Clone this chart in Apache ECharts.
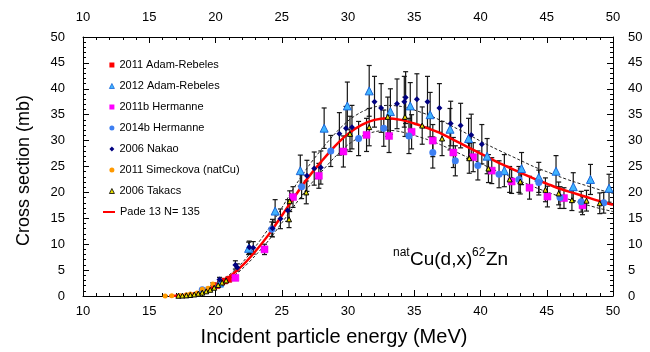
<!DOCTYPE html>
<html>
<head>
<meta charset="utf-8">
<script src="https://cdn.jsdelivr.net/npm/echarts@6/dist/echarts.min.js"></script>
<style>
  html, body { margin: 0; padding: 0; background: #fff; }
  #chart { width: 650px; height: 352px; }
</style>
</head>
<body>
<div id="chart"></div>
<script>
// natCu(d,x)62Zn excitation function: measured points [energy MeV, cross section mb, uncertainty mb]
const adamRebeles2011 = [[20.1, 2.0, 0.2], [20.4, 2.6, 0.3], [20.7, 2.9, 0.3], [21.0, 3.2, 0.3]];
const adamRebeles2012 = [
  [20.3, 2.5, 0.3], [22.5, 9.2, 1.2], [24.5, 16.4, 2.2], [26.4, 24.2, 3.0], [28.2, 32.4, 3.9],
  [29.95, 36.7, 4.6], [31.6, 39.6, 4.9], [33.2, 35.6, 4.4], [34.7, 36.7, 4.5], [36.2, 35.0, 4.3],
  [37.7, 32.2, 4.0], [39.1, 30.4, 3.9], [40.5, 27.0, 3.4], [41.8, 24.2, 3.1], [43.1, 24.6, 3.1],
  [44.4, 22.9, 2.9], [45.7, 24.1, 3.0], [47.0, 21.1, 2.7], [48.3, 22.5, 2.9], [49.7, 20.8, 2.7]
];
const hermanne2011b = [
  [21.5, 3.5, 0.4], [23.7, 9.0, 1.0], [25.85, 19.1, 2.0], [27.8, 23.2, 2.4], [29.65, 27.9, 3.0],
  [31.4, 31.1, 3.2], [33.1, 30.9, 3.2], [34.8, 31.7, 3.3], [36.4, 30.0, 3.1], [37.95, 27.7, 2.9],
  [39.45, 26.8, 2.8], [40.85, 24.2, 2.5], [42.35, 22.1, 2.3], [43.7, 20.9, 2.2], [45.05, 19.2, 2.0],
  [46.3, 18.9, 2.0], [47.7, 17.5, 1.8]
];
const hermanne2014b = [
  [19.0, 1.2, 0.15], [24.25, 12.9, 1.4], [26.5, 21.1, 2.3], [28.7, 28.0, 3.0], [30.8, 30.4, 3.3],
  [32.7, 32.4, 3.5], [34.6, 30.9, 3.4], [36.4, 27.7, 3.0], [38.1, 26.1, 2.9], [39.8, 25.2, 2.8],
  [41.4, 23.5, 2.6], [42.9, 22.5, 2.5], [44.4, 21.9, 2.4], [46.0, 19.0, 2.1], [47.6, 18.2, 2.0],
  [49.3, 18.0, 2.0]
];
const nakao2006 = [
  [20.3, 3.2, 0.4], [21.5, 6.0, 0.8], [21.65, 5.5, 0.7], [22.55, 9.4, 1.2], [22.85, 9.3, 1.2],
  [24.3, 13.1, 1.7], [24.9, 14.9, 1.9], [25.45, 16.5, 2.1], [26.9, 23.2, 3.0], [27.45, 24.6, 3.2],
  [27.95, 24.8, 3.2], [29.35, 31.3, 4.1], [29.85, 32.4, 4.2], [30.3, 32.6, 4.2], [32.0, 37.5, 4.9],
  [32.5, 36.3, 4.7], [33.7, 37.1, 4.8], [34.25, 37.5, 4.9], [34.35, 38.3, 5.0], [35.2, 38.0, 4.9],
  [36.0, 37.5, 4.9], [36.9, 36.3, 4.7], [37.75, 33.3, 4.3], [38.5, 32.9, 4.3], [39.3, 31.1, 4.0],
  [40.1, 29.3, 3.8]
];
const simeckova2011 = [
  [16.2, 0.02, 0.0], [16.7, 0.04, 0.0], [17.3, 0.1, 0.01], [17.8, 0.25, 0.03], [18.1, 0.4, 0.05],
  [18.6, 0.6, 0.07], [19.0, 1.3, 0.15], [19.45, 1.5, 0.17], [19.8, 2.3, 0.25]
];
const takacs2006 = [
  [17.2, 0.05, 0.01], [17.5, 0.08, 0.01], [17.8, 0.12, 0.01], [18.1, 0.2, 0.02], [18.4, 0.3, 0.03],
  [18.7, 0.45, 0.05], [19.0, 0.65, 0.07], [19.3, 0.9, 0.1], [19.6, 1.2, 0.13], [19.9, 1.6, 0.17],
  [20.2, 2.1, 0.22], [20.5, 2.6, 0.28], [20.8, 3.0, 0.32],
  [25.55, 14.8, 1.6], [25.6, 18.3, 2.0], [26.85, 20.0, 2.2], [30.15, 31.3, 3.4], [31.6, 32.6, 3.6],
  [33.0, 34.6, 3.8], [34.3, 34.6, 3.8], [35.6, 32.9, 3.6], [37.1, 30.4, 3.3], [39.15, 26.6, 2.9],
  [40.6, 24.6, 2.7], [42.2, 22.5, 2.5], [43.0, 22.1, 2.4], [44.9, 20.5, 2.3], [45.9, 19.8, 2.2],
  [46.9, 18.5, 2.0], [48.0, 18.4, 2.0], [49.0, 17.9, 2.0]
];

// Pade fit (13 parameters, 135 points) with its uncertainty band
const fitEnergy = [16.5, 17, 18, 19, 20, 21, 22, 23, 24, 25, 26, 27, 28, 29, 30, 31, 32, 33,
  34, 35, 36, 37, 38, 39, 40, 41, 42, 43, 44, 45, 46, 47, 48, 49, 50];
const fitPade = [0, 0.05, 0.3, 0.9, 2.0, 3.6, 5.8, 8.6, 11.8, 15.5, 19.3, 22.9, 26.0, 28.9, 31.3,
  33.0, 34.0, 34.3, 34.0, 33.3, 32.4, 31.4, 30.1, 28.8, 27.5, 26.2, 25.0, 23.8, 22.7, 21.7,
  20.7, 19.9, 19.1, 18.3, 17.6];
const fitUpper = [0, 0.06, 0.35, 1.0, 2.2, 4.0, 6.4, 9.5, 13.0, 17.0, 21.2, 25.0, 28.3, 31.3,
  33.8, 35.5, 36.5, 36.8, 36.6, 35.9, 35.0, 33.9, 32.6, 31.3, 29.9, 28.6, 27.4, 26.2, 25.0,
  24.0, 23.0, 22.1, 21.3, 20.5, 19.8];
const fitLower = [0, 0.04, 0.25, 0.8, 1.8, 3.2, 5.2, 7.8, 10.7, 14.1, 17.6, 21.0, 24.0, 26.8,
  29.2, 30.8, 31.7, 32.0, 31.7, 31.0, 30.2, 29.2, 28.0, 26.8, 25.6, 24.4, 23.3, 22.2, 21.1,
  20.1, 19.2, 18.4, 17.6, 16.9, 16.3];

const xTickStep = 5;
const yTickStep = 5;

const measuredNames = ['2011 Adam-Rebeles', '2012 Adam-Rebeles', '2011b Hermanne', '2014b Hermanne',
  '2006 Nakao', '2011 Simeckova (natCu)', '2006 Takacs'];
const fitName = 'Pade 13 N= 135';

const FONT = '"Liberation Sans", Arial, Helvetica, sans-serif';

function pairs(xs, ys) { return xs.map((x, i) => [x, ys[i]]); }

function errorBars(name, data) {
  return {
    type: 'custom',
    name: name + ' err',
    data: data,
    z: 1,
    silent: true,
    encode: { x: 0, y: 1 },
    renderItem: function (params, api) {
      const x = api.value(0), y = api.value(1), e = api.value(2);
      const top = api.coord([x, y + e]);
      const bot = api.coord([x, Math.max(0, y - e)]);
      const cap = 2.5;
      const st = { stroke: '#151515', lineWidth: 1.2 };
      return {
        type: 'group',
        children: [
          { type: 'line', shape: { x1: top[0], y1: top[1], x2: bot[0], y2: bot[1] }, style: st },
          { type: 'line', shape: { x1: top[0] - cap, y1: top[1], x2: top[0] + cap, y2: top[1] }, style: st },
          { type: 'line', shape: { x1: bot[0] - cap, y1: bot[1], x2: bot[0] + cap, y2: bot[1] }, style: st }
        ]
      };
    }
  };
}

function points(name, data, symbol, size, fill, border, borderWidth) {
  return {
    type: 'scatter',
    name: name,
    data: data.map(d => [d[0], d[1]]),
    symbol: symbol,
    symbolSize: size,
    z: 5,
    itemStyle: { color: fill, borderColor: border, borderWidth: borderWidth, opacity: 1 }
  };
}

// legend marker for each measured set (small, like the plotted markers)
function legendEntry(name, icon, fill, border, borderWidth) {
  return { name: name, icon: icon, itemStyle: { color: fill, borderColor: border, borderWidth: borderWidth } };
}

const chart = echarts.init(document.getElementById('chart'), null, { renderer: 'canvas' });

const xAxisBase = {
  type: 'value', min: 10, max: 50, interval: xTickStep,
  axisLine: { show: true, onZero: false, lineStyle: { color: '#000', width: 1 } },
  axisTick: { show: true, inside: true, length: 6, lineStyle: { color: '#000' } },
  minorTick: { show: true, splitNumber: 5, length: 3, lineStyle: { color: '#000' } },
  splitLine: { show: false },
  axisLabel: { fontFamily: FONT, fontSize: 13, color: '#000' }
};
const yAxisBase = {
  type: 'value', min: 0, max: 50, interval: yTickStep,
  axisLine: { show: true, onZero: false, lineStyle: { color: '#000', width: 1 } },
  axisTick: { show: true, inside: true, length: 6, lineStyle: { color: '#000' } },
  minorTick: { show: true, splitNumber: 5, length: 3, lineStyle: { color: '#000' } },
  splitLine: { show: false },
  axisLabel: { fontFamily: FONT, fontSize: 13, color: '#000' }
};

const legendText = { fontFamily: FONT, fontSize: 11, color: '#000', lineHeight: 14 };

const option = {
  animation: false,
  backgroundColor: '#fff',
  grid: { left: 83, right: 37, top: 37, bottom: 56, containLabel: false },
  xAxis: [
    Object.assign({}, xAxisBase, {
      position: 'bottom',
      name: 'Incident particle energy (MeV)',
      nameLocation: 'middle', nameGap: 31,
      nameTextStyle: { fontFamily: FONT, fontSize: 20, color: '#000', padding: [0, 28, 0, 0] },
      axisLabel: Object.assign({}, xAxisBase.axisLabel, { margin: 9 })
    }),
    Object.assign({}, xAxisBase, {
      position: 'top',
      axisLabel: Object.assign({}, xAxisBase.axisLabel, { margin: 13 })
    })
  ],
  yAxis: [
    Object.assign({}, yAxisBase, {
      position: 'left',
      name: 'Cross section (mb)',
      nameLocation: 'middle', nameGap: 50, nameRotate: 90,
      nameTextStyle: { fontFamily: FONT, fontSize: 18, color: '#000', padding: [0, 8, 0, 0] },
      axisLabel: Object.assign({}, yAxisBase.axisLabel, { margin: 18 })
    }),
    Object.assign({}, yAxisBase, {
      position: 'right',
      axisLabel: Object.assign({}, yAxisBase.axisLabel, { margin: 15 })
    })
  ],
  legend: [
    {
      orient: 'vertical',
      left: 109, top: 58,
      itemWidth: 5, itemHeight: 5,
      itemGap: 7,
      padding: 0,
      textStyle: legendText,
      data: [
        legendEntry(measuredNames[0], 'rect', '#ff0000', '#ff0000', 0),
        legendEntry(measuredNames[1], 'triangle', '#3fb4ff', '#1a66d9', 0.8),
        legendEntry(measuredNames[2], 'rect', '#ff00ff', '#ff00ff', 0),
        legendEntry(measuredNames[3], 'circle', '#3d7ff2', '#3d7ff2', 0),
        legendEntry(measuredNames[4], 'diamond', '#000080', '#000080', 0),
        legendEntry(measuredNames[5], 'circle', '#ff9900', '#ff9900', 0),
        legendEntry(measuredNames[6], 'triangle', '#e8e000', '#000', 0.8)
      ]
    },
    {
      orient: 'vertical',
      left: 103, top: 205,
      itemWidth: 12, itemHeight: 2,
      padding: 0,
      icon: 'rect',
      textStyle: legendText,
      data: [fitName]
    }
  ],
  graphic: [
    { type: 'text', left: 393, top: 247, style: { text: 'nat', font: '12px ' + FONT, fill: '#000' } },
    { type: 'text', left: 410, top: 250, style: { text: 'Cu(d,x)', font: '19px ' + FONT, fill: '#000' } },
    { type: 'text', left: 472, top: 247, style: { text: '62', font: '12px ' + FONT, fill: '#000' } },
    { type: 'text', left: 486, top: 250, style: { text: 'Zn', font: '19px ' + FONT, fill: '#000' } }
  ],
  series: [
    errorBars(measuredNames[0], adamRebeles2011),
    errorBars(measuredNames[1], adamRebeles2012),
    errorBars(measuredNames[2], hermanne2011b),
    errorBars(measuredNames[3], hermanne2014b),
    errorBars(measuredNames[4], nakao2006),
    errorBars(measuredNames[5], simeckova2011),
    errorBars(measuredNames[6], takacs2006),
    {
      type: 'line', name: 'upper band', data: pairs(fitEnergy, fitUpper), smooth: 0.3,
      symbol: 'none', z: 2, silent: true,
      lineStyle: { color: '#222', width: 1, type: [3, 2] }
    },
    {
      type: 'line', name: 'lower band', data: pairs(fitEnergy, fitLower), smooth: 0.3,
      symbol: 'none', z: 2, silent: true,
      lineStyle: { color: '#222', width: 1, type: [3, 2] }
    },
    {
      type: 'line', name: fitName, data: pairs(fitEnergy, fitPade), smooth: 0.3,
      symbol: 'none', z: 3, silent: true,
      itemStyle: { color: '#ff0000' },
      lineStyle: { color: '#ff0000', width: 2.5 }
    },
    points(measuredNames[0], adamRebeles2011, 'rect', 6, '#ff0000', '#cc0000', 0.5),
    points(measuredNames[1], adamRebeles2012, 'triangle', 8, '#3fb4ff', '#1a66d9', 1),
    points(measuredNames[2], hermanne2011b, 'rect', 7, '#ff00ff', '#e000e0', 0.5),
    points(measuredNames[3], hermanne2014b, 'circle', 7, '#3d7ff2', '#3d7ff2', 0),
    points(measuredNames[4], nakao2006, 'diamond', 6, '#000080', '#000080', 0),
    points(measuredNames[5], simeckova2011, 'circle', 5, '#ff9900', '#ff9900', 0),
    points(measuredNames[6], takacs2006, 'triangle', 5, '#e8e000', '#000', 1)
  ]
};

chart.setOption(option);
</script>
</body>
</html>
